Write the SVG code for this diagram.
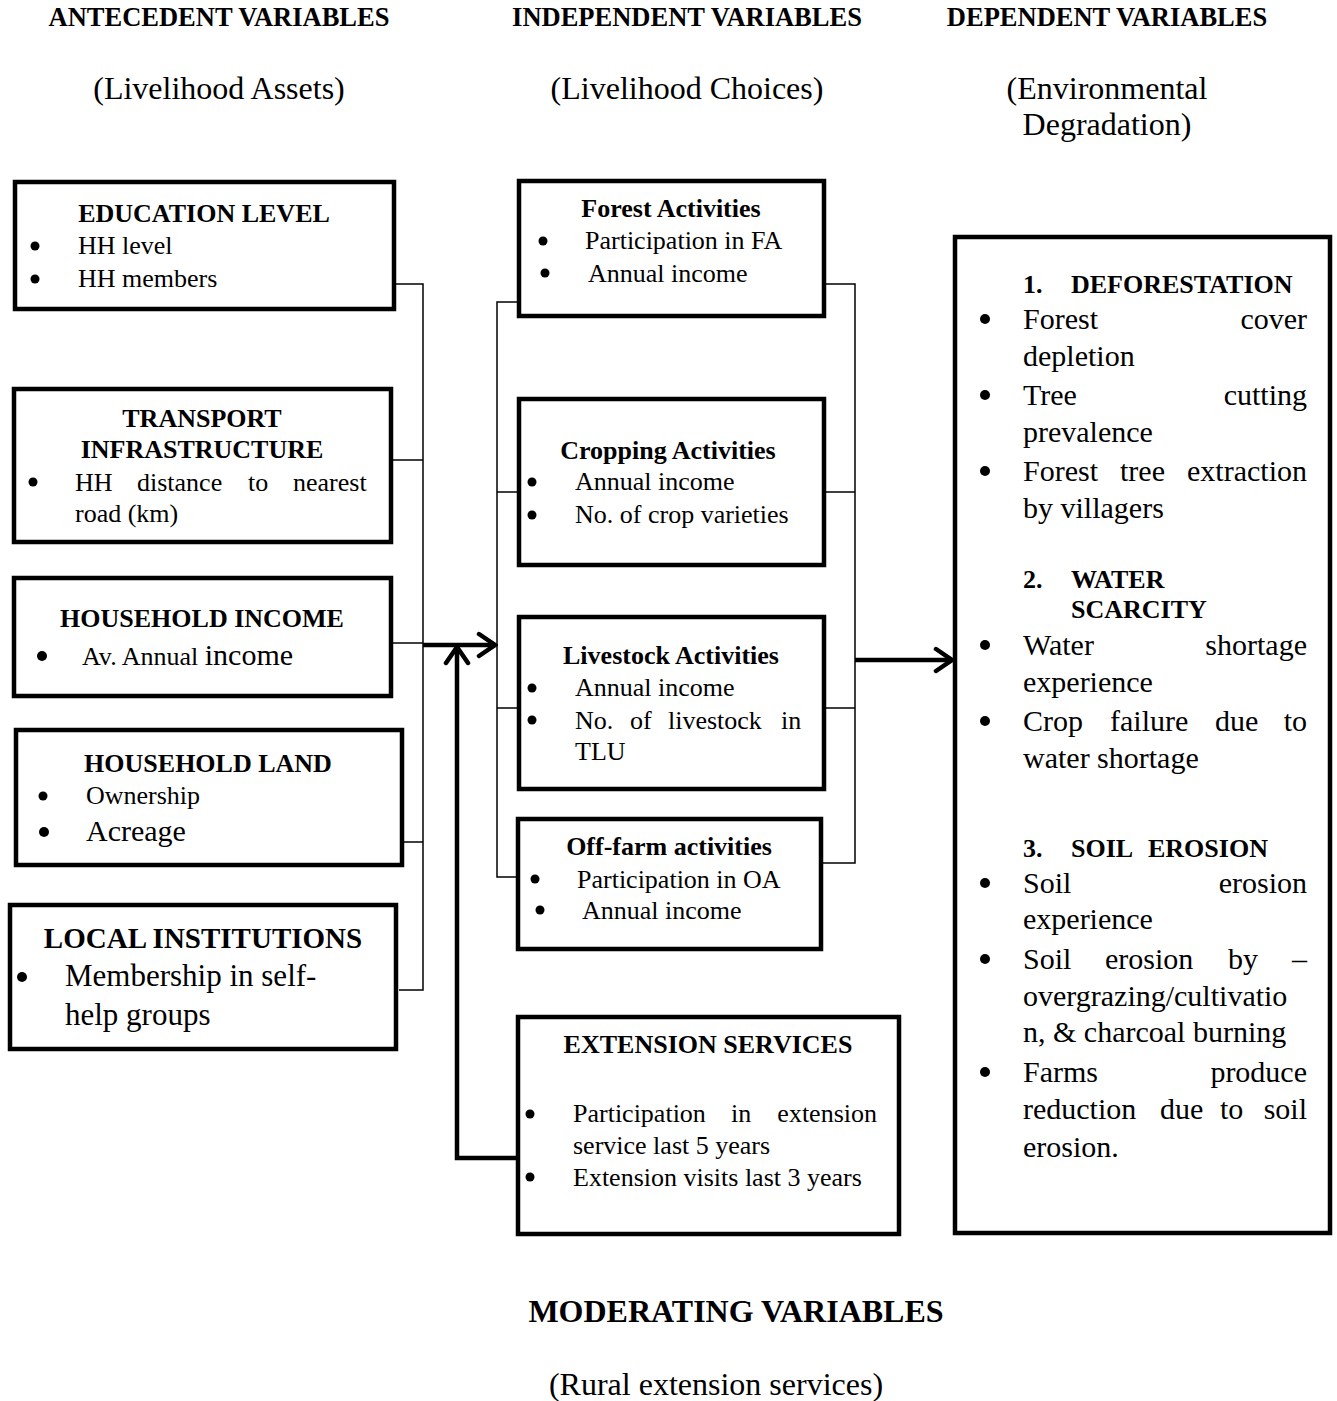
<svg xmlns="http://www.w3.org/2000/svg" width="1337" height="1401" viewBox="0 0 1337 1401">
<defs>
<style>
text{font-family:"Liberation Serif","Times New Roman",serif;fill:#000}
.h{font-size:26.5px;font-weight:bold}
.sub{font-size:32px}
.t{font-size:26px;font-weight:bold;text-anchor:middle}
.b{font-size:26px}
.bl{font-size:30px}
.box{fill:#fff;stroke:#000;stroke-width:4.5}
.thin{fill:none;stroke:#000;stroke-width:1.5}
.thick{fill:none;stroke:#000;stroke-width:4.5}
.dot{fill:#000}
.c{text-anchor:middle}
.e{text-anchor:end}
</style>
<marker id="chev" viewBox="0 0 22 28" refX="19" refY="14" markerWidth="22" markerHeight="28" markerUnits="userSpaceOnUse" orient="auto">
<path d="M3,3 L19,14 L3,25" fill="none" stroke="#000" stroke-width="4.5" stroke-linecap="round"/>
</marker>
</defs>
<rect width="1337" height="1401" fill="#fff"/>

<g id="headers">
<text class="h c" x="219" y="26">ANTECEDENT VARIABLES</text>
<text class="h c" x="687" y="26">INDEPENDENT VARIABLES</text>
<text class="h c" x="1107" y="26">DEPENDENT VARIABLES</text>
<text class="sub c" x="219" y="99">(Livelihood Assets)</text>
<text class="sub c" x="687" y="99">(Livelihood Choices)</text>
<text class="sub c" x="1107" y="99">(Environmental</text>
<text class="sub c" x="1107" y="135">Degradation)</text>
</g>

<g id="connectors">
<polyline class="thin" points="395,284 423,284 423,990 399,990"/>
<line class="thin" x1="392" y1="460" x2="423" y2="460"/>
<line class="thin" x1="392" y1="643" x2="423" y2="643"/>
<line class="thin" x1="403" y1="842" x2="423" y2="842"/>
<polyline class="thin" points="517,302 497,302 497,877 522,877"/>
<line class="thin" x1="497" y1="492" x2="517" y2="492"/>
<line class="thin" x1="497" y1="708" x2="517" y2="708"/>
<polyline class="thin" points="825,284 855,284 855,863 823,863"/>
<line class="thin" x1="825" y1="492" x2="855" y2="492"/>
<line class="thin" x1="825" y1="708" x2="855" y2="708"/>
<line class="thick" x1="423" y1="645" x2="495" y2="645" marker-end="url(#chev)"/>
<polyline class="thick" points="516,1158 457,1158 457,647" marker-end="url(#chev)"/>
<line class="thick" x1="855" y1="660" x2="952" y2="660" marker-end="url(#chev)"/>
</g>

<g id="education-level">
<rect class="box" x="15" y="182" width="379" height="127"/>
<text class="t" x="204" y="222">EDUCATION LEVEL</text>
<circle class="dot" cx="35" cy="246" r="4.5"/>
<text class="b" x="78" y="254">HH level</text>
<circle class="dot" cx="35" cy="279" r="4.5"/>
<text class="b" x="78" y="287">HH members</text>
</g>

<g id="transport-infrastructure">
<rect class="box" x="14" y="389" width="377" height="153"/>
<text class="t" x="202" y="427">TRANSPORT</text>
<text class="t" x="202" y="458">INFRASTRUCTURE</text>
<circle class="dot" cx="33" cy="482" r="4.5"/>
<text class="b" y="491"><tspan x="75">HH</tspan><tspan x="137">distance</tspan><tspan x="248">to</tspan><tspan x="293">nearest</tspan></text>
<text class="b" x="75" y="522">road (km)</text>
</g>

<g id="household-income">
<rect class="box" x="14" y="578" width="377" height="118"/>
<text class="t" x="202" y="627">HOUSEHOLD INCOME</text>
<circle class="dot" cx="42" cy="656" r="5"/>
<text class="b" x="82" y="665">Av. Annual <tspan style="font-size:30px">income</tspan></text>
</g>

<g id="household-land">
<rect class="box" x="16" y="730" width="386" height="135"/>
<text class="t" x="208" y="772">HOUSEHOLD LAND</text>
<circle class="dot" cx="43" cy="796" r="4.5"/>
<text class="b" x="86" y="804">Ownership</text>
<circle class="dot" cx="44" cy="832" r="5"/>
<text class="bl" x="86" y="841">Acreage</text>
</g>

<g id="local-institutions">
<rect class="box" x="10" y="905" width="386" height="144"/>
<text class="t" style="font-size:29px" x="203" y="948">LOCAL INSTITUTIONS</text>
<circle class="dot" cx="22" cy="977" r="5"/>
<text class="bl" style="font-size:31px" x="65" y="986">Membership in self-</text>
<text class="bl" style="font-size:31px" x="65" y="1025">help groups</text>
</g>

<g id="forest-activities">
<rect class="box" x="519" y="181" width="305" height="135"/>
<text class="t" x="671" y="217">Forest Activities</text>
<circle class="dot" cx="543" cy="241" r="4.5"/>
<text class="b" x="585" y="249">Participation in FA</text>
<circle class="dot" cx="545" cy="273" r="4.5"/>
<text class="b" x="588" y="282">Annual income</text>
</g>

<g id="cropping-activities">
<rect class="box" x="519" y="399" width="305" height="166"/>
<text class="t" x="668" y="459">Cropping Activities</text>
<circle class="dot" cx="532" cy="482" r="4.5"/>
<text class="b" x="575" y="490">Annual income</text>
<circle class="dot" cx="532" cy="515" r="4.5"/>
<text class="b" x="575" y="523">No. of crop varieties</text>
</g>

<g id="livestock-activities">
<rect class="box" x="519" y="617" width="305" height="172"/>
<text class="t" x="671" y="664">Livestock Activities</text>
<circle class="dot" cx="532" cy="688" r="4.5"/>
<text class="b" x="575" y="696">Annual income</text>
<circle class="dot" cx="532" cy="720" r="4.5"/>
<text class="b" y="729"><tspan x="575">No.</tspan><tspan x="630">of</tspan><tspan x="668">livestock</tspan><tspan x="781">in</tspan></text>
<text class="b" x="575" y="760">TLU</text>
</g>

<g id="off-farm-activities">
<rect class="box" x="518" y="819" width="303" height="130"/>
<text class="t" x="669" y="855">Off-farm activities</text>
<circle class="dot" cx="535" cy="879" r="4.5"/>
<text class="b" x="577" y="888">Participation in OA</text>
<circle class="dot" cx="540" cy="910" r="4.5"/>
<text class="b" x="582" y="919">Annual income</text>
</g>

<g id="extension-services">
<rect class="box" x="518" y="1017" width="381" height="217"/>
<text class="t" x="708" y="1053">EXTENSION SERVICES</text>
<circle class="dot" cx="530" cy="1114" r="4.5"/>
<text class="b" y="1122"><tspan x="573">Participation</tspan><tspan x="731">in</tspan></text>
<text class="b e" x="877" y="1122">extension</text>
<text class="b" x="573" y="1154">service last 5 years</text>
<circle class="dot" cx="530" cy="1177" r="4.5"/>
<text class="b" x="573" y="1186">Extension visits last 3 years</text>
</g>

<g id="environmental-degradation">
<rect class="box" x="955" y="237" width="375" height="996"/>
<text class="t" style="text-anchor:start" x="1023" y="293">1.</text>
<text class="t" style="text-anchor:start" x="1071" y="293">DEFORESTATION</text>
<circle class="dot" cx="985" cy="319" r="5"/>
<text class="bl" x="1023" y="329">Forest</text><text class="bl e" x="1307" y="329">cover</text>
<text class="bl" x="1023" y="366">depletion</text>
<circle class="dot" cx="985" cy="395" r="5"/>
<text class="bl" x="1023" y="405">Tree</text><text class="bl e" x="1307" y="405">cutting</text>
<text class="bl" x="1023" y="442">prevalence</text>
<circle class="dot" cx="985" cy="471" r="5"/>
<text class="bl" x="1023" y="481">Forest</text><text class="bl" x="1120" y="481">tree</text><text class="bl e" x="1307" y="481">extraction</text>
<text class="bl" x="1023" y="518">by villagers</text>
<text class="t" style="text-anchor:start" x="1023" y="588">2.</text>
<text class="t" style="text-anchor:start" x="1071" y="588">WATER</text>
<text class="t" style="text-anchor:start" x="1071" y="618">SCARCITY</text>
<circle class="dot" cx="985" cy="645" r="5"/>
<text class="bl" x="1023" y="655">Water</text><text class="bl e" x="1307" y="655">shortage</text>
<text class="bl" x="1023" y="692">experience</text>
<circle class="dot" cx="985" cy="721" r="5"/>
<text class="bl" y="731"><tspan x="1023">Crop</tspan><tspan x="1110">failure</tspan><tspan x="1215">due</tspan></text><text class="bl e" x="1307" y="731">to</text>
<text class="bl" x="1023" y="768">water shortage</text>
<text class="t" style="text-anchor:start" x="1023" y="857">3.</text>
<text class="t" style="text-anchor:start" y="857"><tspan x="1071">SOIL</tspan><tspan x="1148">EROSION</tspan></text>
<circle class="dot" cx="985" cy="883" r="5"/>
<text class="bl" x="1023" y="893">Soil</text><text class="bl e" x="1307" y="893">erosion</text>
<text class="bl" x="1023" y="929">experience</text>
<circle class="dot" cx="985" cy="959" r="5"/>
<text class="bl" y="969"><tspan x="1023">Soil</tspan><tspan x="1105">erosion</tspan><tspan x="1228">by</tspan></text><text class="bl e" x="1307" y="969">–</text>
<text class="bl" x="1023" y="1006">overgrazing/cultivatio</text>
<text class="bl" x="1023" y="1042">n, &amp; charcoal burning</text>
<circle class="dot" cx="985" cy="1072" r="5"/>
<text class="bl" x="1023" y="1082">Farms</text><text class="bl e" x="1307" y="1082">produce</text>
<text class="bl" y="1119"><tspan x="1023">reduction</tspan><tspan x="1160">due</tspan><tspan x="1220">to</tspan></text><text class="bl e" x="1307" y="1119">soil</text>
<text class="bl" x="1023" y="1157">erosion.</text>
</g>

<g id="footer">
<text class="c" style="font-size:32px;font-weight:bold" x="736" y="1322">MODERATING VARIABLES</text>
<text class="sub c" x="716" y="1395">(Rural extension services)</text>
</g>
</svg>
